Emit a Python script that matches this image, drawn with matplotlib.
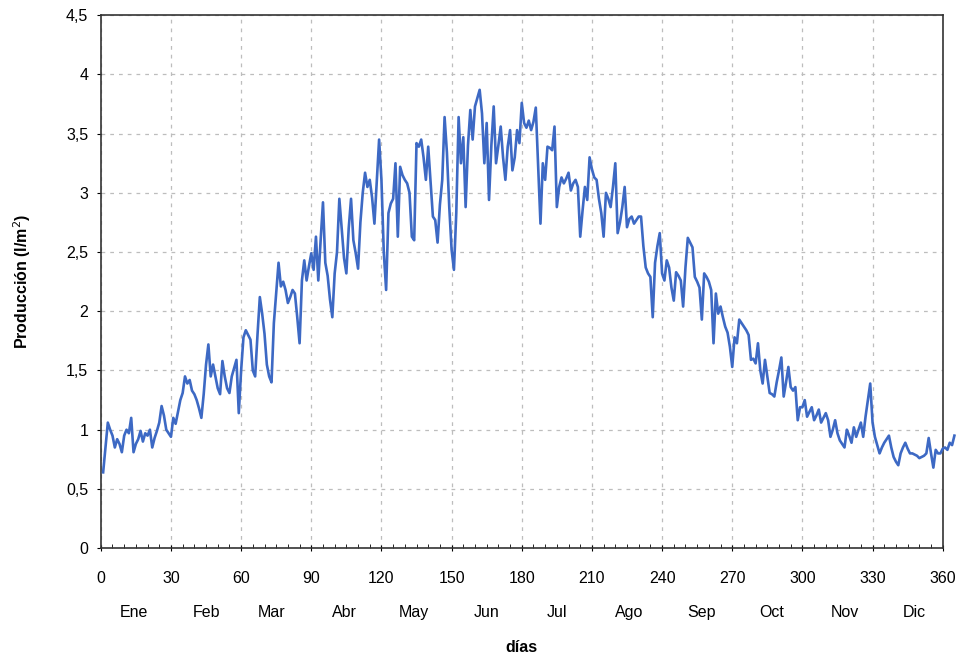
import numpy as np
import matplotlib.pyplot as plt
from matplotlib.ticker import MultipleLocator, FuncFormatter

plt.rcParams['font.family'] = ['Liberation Sans', 'DejaVu Sans']

# Producción diaria (l/m2), un valor por día, agrupado por mes
ene = [0.64, 0.85, 1.06, 1.00, 0.95, 0.85, 0.92, 0.88, 0.81, 0.95,
       1.00, 0.97, 1.10, 0.81, 0.88, 0.92, 0.99, 0.90, 0.97, 0.95,
       1.00, 0.85, 0.93, 0.99, 1.06, 1.20, 1.12, 1.00, 0.97, 0.94, 1.10]
feb = [1.05, 1.15, 1.25, 1.31, 1.45, 1.39, 1.42, 1.33, 1.30, 1.25,
       1.18, 1.10, 1.30, 1.55, 1.72, 1.45, 1.55, 1.45, 1.35, 1.30,
       1.58, 1.45, 1.35, 1.31, 1.45, 1.52, 1.59, 1.14]
mar = [1.50, 1.78, 1.84, 1.80, 1.76, 1.50, 1.45, 1.80, 2.12, 1.98,
       1.81, 1.55, 1.45, 1.40, 1.90, 2.15, 2.41, 2.21, 2.25, 2.18,
       2.07, 2.12, 2.18, 2.15, 1.95, 1.73, 2.26, 2.43, 2.26, 2.38, 2.49]
abr = [2.35, 2.63, 2.26, 2.60, 2.92, 2.41, 2.30, 2.10, 1.95, 2.32,
       2.50, 2.95, 2.70, 2.45, 2.32, 2.70, 2.95, 2.60, 2.49, 2.36,
       2.75, 3.00, 3.17, 3.05, 3.11, 2.96, 2.74, 3.10, 3.45, 3.11]
may = [2.50, 2.18, 2.83, 2.91, 2.95, 3.25, 2.63, 3.22, 3.15, 3.11,
       3.08, 3.00, 2.63, 2.60, 3.42, 3.39, 3.45, 3.30, 3.11, 3.39,
       3.10, 2.80, 2.77, 2.58, 2.90, 3.11, 3.64, 3.34, 2.88, 2.52, 2.35]
jun = [2.83, 3.64, 3.25, 3.47, 2.88, 3.40, 3.70, 3.45, 3.73, 3.80,
       3.87, 3.67, 3.25, 3.59, 2.94, 3.40, 3.73, 3.25, 3.40, 3.56,
       3.30, 3.11, 3.39, 3.53, 3.19, 3.30, 3.53, 3.42, 3.76, 3.59]
jul = [3.55, 3.61, 3.53, 3.60, 3.72, 3.22, 2.74, 3.25, 3.11, 3.39,
       3.38, 3.36, 3.56, 2.88, 3.05, 3.13, 3.08, 3.12, 3.17, 3.02,
       3.08, 3.11, 3.05, 2.63, 2.85, 3.05, 2.94, 3.30, 3.20, 3.13, 3.11]
ago = [2.95, 2.83, 2.63, 3.00, 2.95, 2.88, 3.05, 3.25, 2.66, 2.75,
       2.88, 3.05, 2.71, 2.78, 2.80, 2.74, 2.77, 2.80, 2.80, 2.55,
       2.37, 2.32, 2.29, 1.95, 2.41, 2.55, 2.66, 2.32, 2.26, 2.43, 2.37]
sep = [2.20, 2.09, 2.33, 2.30, 2.26, 2.04, 2.37, 2.62, 2.58, 2.54,
       2.29, 2.25, 2.20, 1.93, 2.32, 2.29, 2.25, 2.18, 1.73, 2.15,
       1.98, 2.04, 1.95, 1.87, 1.82, 1.70, 1.53, 1.78, 1.73, 1.93]
octu = [1.90, 1.87, 1.84, 1.80, 1.59, 1.60, 1.56, 1.73, 1.50, 1.39,
        1.59, 1.45, 1.31, 1.30, 1.28, 1.40, 1.50, 1.61, 1.28, 1.40,
        1.53, 1.36, 1.33, 1.36, 1.08, 1.19, 1.19, 1.25, 1.11, 1.15, 1.19]
nov = [1.08, 1.12, 1.17, 1.06, 1.10, 1.14, 1.08, 0.94, 1.00, 1.08,
       0.97, 0.91, 0.88, 0.85, 1.00, 0.95, 0.89, 1.02, 0.94, 1.00,
       1.06, 0.94, 1.11, 1.25, 1.39, 1.06, 0.94, 0.87, 0.80, 0.85]
dic = [0.89, 0.92, 0.95, 0.85, 0.77, 0.73, 0.70, 0.80, 0.85, 0.89,
       0.84, 0.80, 0.80, 0.79, 0.78, 0.76, 0.77, 0.78, 0.80, 0.93,
       0.80, 0.68, 0.83, 0.80, 0.80, 0.84, 0.85, 0.83, 0.89, 0.87, 0.95]

meses = ['Ene', 'Feb', 'Mar', 'Abr', 'May', 'Jun',
         'Jul', 'Ago', 'Sep', 'Oct', 'Nov', 'Dic']
datos_mes = [ene, feb, mar, abr, may, jun, jul, ago, sep, octu, nov, dic]

produccion = np.concatenate(datos_mes)
dias = np.arange(1, len(produccion) + 1)

fig = plt.figure(figsize=(9.6, 6.62), dpi=100)
ax = fig.add_axes([0.105, 0.172, 0.877, 0.805])

ax.plot(dias, produccion, color='#3d69c4', lw=1.9, clip_on=False, zorder=3,
        solid_joinstyle='round')

ax.set_xlim(0, 360)
ax.set_ylim(0, 4.5)
ax.xaxis.set_major_locator(MultipleLocator(30))
ax.xaxis.set_minor_locator(MultipleLocator(5))
ax.yaxis.set_major_locator(MultipleLocator(0.5))
ax.yaxis.set_major_formatter(FuncFormatter(lambda v, p: f'{v:g}'.replace('.', ',')))

ax.grid(True, which='major', color='#bdbdbd', ls=(0, (3, 4)), lw=0.9)
ax.tick_params(axis='x', which='major', direction='inout', length=5, labelsize=11.5, pad=14)
ax.tick_params(axis='x', which='minor', direction='in', length=3)
ax.tick_params(axis='y', which='major', direction='out', length=3, labelsize=11.5, pad=6)
for s in ax.spines.values():
    s.set_color('#333333')
    s.set_linewidth(1.2)

# etiquetas de los meses bajo los números de días
inicio = np.concatenate([[0], np.cumsum([len(m) for m in datos_mes])[:-1]])
for mes, d0 in zip(meses, inicio):
    ax.text(d0 + 14, -0.54, mes, ha='center', va='center', fontsize=11.5,
            clip_on=False)

ax.set_xlabel('días', fontsize=11.5, fontweight='bold', labelpad=39)
ax.set_ylabel('Producción (l/m$^2$)', fontsize=11.5, fontweight='bold', labelpad=24)

fig.savefig('out.png', dpi=100)
